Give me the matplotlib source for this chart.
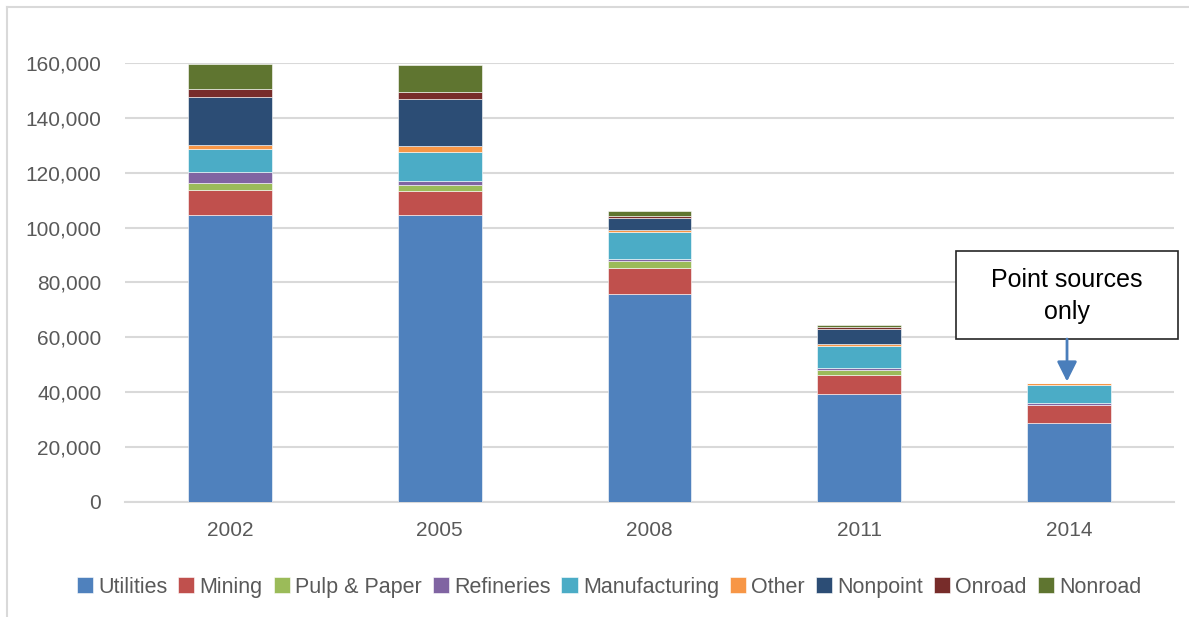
import matplotlib
matplotlib.use("Agg")
import matplotlib.pyplot as plt
from matplotlib.lines import Line2D
from matplotlib.patches import Rectangle
from matplotlib.ticker import FuncFormatter
import numpy as np

plt.rcParams['font.family'] = ['Liberation Sans', 'DejaVu Sans']

# emissions by sector
years = ['2002', '2005', '2008', '2011', '2014']
sectors = ['Utilities', 'Mining', 'Pulp & Paper', 'Refineries', 'Manufacturing',
           'Other', 'Nonpoint', 'Onroad', 'Nonroad']
utilities = [104700, 104700, 75700, 39300, 28800]
mining = [8900, 8500, 9500, 6900, 6400]
pulp_paper = [2700, 2400, 2600, 1900, 0]
refineries = [4000, 1500, 900, 600, 900]
manufacturing = [8200, 10500, 9600, 8300, 6700]
other = [1500, 2000, 700, 500, 600]
nonpoint = [17500, 17400, 4400, 5700, 0]
onroad = [3100, 2400, 800, 500, 0]
nonroad = [9000, 9700, 1800, 700, 0]

colors = ['#4F81BD', '#C0504D', '#9BBB59', '#8064A2', '#4BACC6',
          '#F79646', '#2C4D75', '#772C2A', '#5F7530']
grey = '#595959'

series = [utilities, mining, pulp_paper, refineries, manufacturing,
          other, nonpoint, onroad, nonroad]

fig = plt.figure(figsize=(11.89, 6.17), dpi=100)
ax = fig.add_axes([0.1051, 0.1864, 0.8823, 0.7115])

x = np.arange(len(years))
bottom = np.zeros(len(years))
for name, vals, c in zip(sectors, series, colors):
    vals = np.array(vals, dtype=float)
    ax.bar(x, vals, 0.4, bottom=bottom, color=c, label=name,
           edgecolor='white', linewidth=0.4, zorder=3)
    bottom += vals

ax.set_xlim(-0.5, 4.5)
ax.set_ylim(0, 160000)
ax.set_yticks(np.arange(0, 160001, 20000))
ax.yaxis.set_major_formatter(FuncFormatter(lambda v, p: f'{int(v):,}'))
ax.set_xticks(x)
ax.set_xticklabels(years)
ax.tick_params(axis='both', length=0, labelsize=15, colors=grey)
ax.tick_params(axis='x', pad=14)
ax.tick_params(axis='y', pad=17)
ax.grid(axis='y', color='#D9D9D9', linewidth=1.5, zorder=0)
ax.set_axisbelow(True)
for s in ['top', 'right', 'left']:
    ax.spines[s].set_visible(False)
ax.spines['bottom'].set_color('#D9D9D9')
ax.spines['bottom'].set_linewidth(1.5)

# callout box
ax.add_patch(Rectangle((3.46, 59400), 1.06, 32100, facecolor='white',
                       edgecolor='#262626', linewidth=1.2, clip_on=False, zorder=5))
ax.text(3.99, 75000, 'Point sources\nonly', ha='center', va='center',
        fontsize=18, color='black', linespacing=1.4, zorder=6)
ax.annotate('', xy=(3.99, 43900), xytext=(3.99, 59400),
            arrowprops=dict(arrowstyle='-|>', color='#4A7EBB', lw=2,
                            mutation_scale=30, shrinkA=0, shrinkB=0), zorder=6)

leg = ax.legend(loc='center', bbox_to_anchor=(609 / 1189, 0.048),
                bbox_transform=fig.transFigure, ncol=9, frameon=False,
                fontsize=15.5, handlelength=0.75, handleheight=0.75,
                handletextpad=0.25, columnspacing=0.5)
for t in leg.get_texts():
    t.set_color(grey)

# chart frame
fig.add_artist(Line2D([7 / 1189, 7 / 1189], [0, 1 - 7 / 617], color='#D9D9D9', lw=1.5))
fig.add_artist(Line2D([7 / 1189, 1], [1 - 7 / 617, 1 - 7 / 617], color='#D9D9D9', lw=1.5))

fig.savefig('out.png', dpi=100)
